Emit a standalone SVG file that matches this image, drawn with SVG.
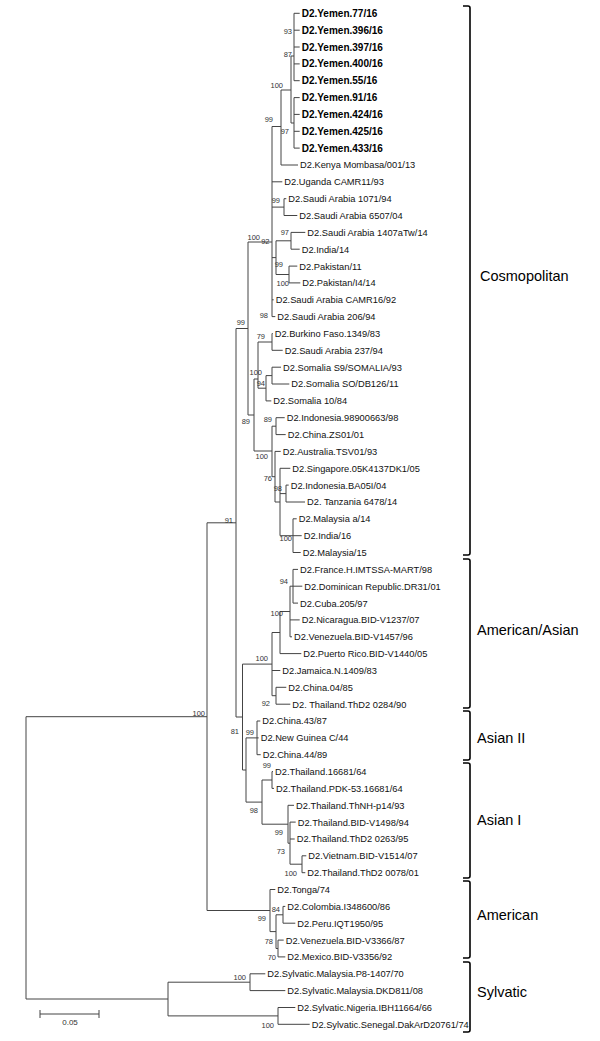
<svg xmlns="http://www.w3.org/2000/svg" width="600" height="1041" viewBox="0 0 600 1041">
<style>
.lf{font-family:"Liberation Sans",Arial,sans-serif;font-size:9.3px;fill:#111}
.bd{font-family:"Liberation Sans",Arial,sans-serif;font-size:10px;font-weight:bold;fill:#000}
.bs{font-family:"Liberation Sans",Arial,sans-serif;font-size:7.5px;fill:#333;text-anchor:end}
.cl{font-family:"Liberation Sans",Arial,sans-serif;font-size:14.5px;fill:#000}
.br{fill:none;stroke:#000;stroke-width:1.6}
.tr{fill:none;stroke:#444;stroke-width:1}
</style>
<rect width="600" height="1041" fill="#fff"/>
<g id="connectors" class="tr">
<path d="M26,716.7V999M26,716.7H207M26,999H168
M207,522.8V910.5M207,522.8H236M207,910.5H270
M236,328.5V717M236,328.5H248M236,717H242.5
M248,242V415M248,242H272M248,415H254
M272,126.5V316.6M272,126.5H281M272,181.8H282.3M272,207.1H284M272,257.6H276M272,299.8H273.7M272,316.6H275.3
M281,90V165M281,90H291M281,165H298
M291,56V123M291,56H294M291,123H294
M294,13.3V80.7M294,13.3H299.7M294,30.2H299.7M294,47H299.7M294,63.9H299.7M294,80.7H299.7
M294,97.6V148.1M294,97.6H299.7M294,114.4H299.7M294,131.3H299.7M294,148.1H299.7
M284,198.7V215.5M284,198.7H286.3M284,215.5H297.3
M276,240.8V274.5M276,240.8H291M276,274.5H289
M291,232.4V249.2M291,232.4H305.3M291,249.2H299.7
M289,266.1V282.9M289,266.1H297.3M289,282.9H300.3
M254,379V451M254,379H258M254,451H272
M258,342V388.2M258,342H272M258,388.2H266
M272,333.5V350.3M272,333.5H272.7M272,350.3H282.7
M266,375.6V400.9M266,375.6H272M266,400.9H271.3
M272,367.2V384M272,367.2H281M272,384H289.3
M272,426.2V476.7M272,426.2H276M272,476.7H275
M276,417.7V434.6M276,417.7H284.7M276,434.6H285.7
M275,451.4V502M275,451.4H280.7M275,502H280
M280,468.3V535.7M280,468.3H290.3M280,493.6H286M280,535.7H293
M286,485.1V502M286,485.1H288.7M286,502H305
M293,518.8V552.5M293,518.8H296.7M293,535.7H301.7M293,552.5H300.7
M242.5,664.1V770M242.5,664.1H272M242.5,770H246
M272,632.5V695.7M272,632.5H280M272,670.5H280.3M272,695.7H276
M280,611.5V653.6M280,611.5H290M280,653.6H301.3
M290,586.2V636.8M290,586.2H293M290,619.9H299.7M290,636.8H292
M293,569.4V603.1M293,569.4H298M293,586.2H302.3M293,603.1H298
M276,687.3V704.2M276,687.3H286.3M276,704.2H290.3
M246,737.9V802.1M246,737.9H257M246,802.1H262
M257,721V754.7M257,721H260.3M257,737.9H258.7M257,754.7H260.7
M262,780V824.2M262,780H272M262,824.2H288
M272,771.6V788.4M272,771.6H273M272,788.4H274
M288,805.3V843.2M288,805.3H294M288,843.2H290
M290,822.1V864.2M290,822.1H295.7M290,839H294.7M290,864.2H302
M302,855.8V872.7M302,855.8H306.3M302,872.7H305.3
M270,889.5V931.6M270,889.5H275.3M270,931.6H276
M276,914.8V948.5M276,914.8H283M276,948.5H278
M283,906.4V923.2M283,906.4H285.3M283,923.2H295.3
M278,940.1V956.9M278,940.1H283.7M278,956.9H285.3
M168,982.2V1015.9M168,982.2H250M168,1015.9H278
M250,973.8V990.6M250,973.8H265.3M250,990.6H285.3
M278,1007.5V1024.3M278,1007.5H295.3M278,1024.3H309.7"/>
</g>
<g id="bootstrap">
<text class="bs" x="292" y="34">93</text>
<text class="bs" x="292" y="57">87</text>
<text class="bs" x="283" y="88">100</text>
<text class="bs" x="273" y="122">99</text>
<text class="bs" x="289" y="134">97</text>
<text class="bs" x="280" y="203">99</text>
<text class="bs" x="260" y="240">100</text>
<text class="bs" x="269.5" y="244">92</text>
<text class="bs" x="289" y="235">97</text>
<text class="bs" x="283" y="267">99</text>
<text class="bs" x="289" y="286">100</text>
<text class="bs" x="268" y="318">98</text>
<text class="bs" x="245" y="325">99</text>
<text class="bs" x="265" y="339">79</text>
<text class="bs" x="262" y="375">100</text>
<text class="bs" x="265" y="386">94</text>
<text class="bs" x="250" y="424">89</text>
<text class="bs" x="272" y="422">89</text>
<text class="bs" x="268" y="459">100</text>
<text class="bs" x="272" y="481">76</text>
<text class="bs" x="282" y="491">98</text>
<text class="bs" x="292" y="541">100</text>
<text class="bs" x="233" y="523">91</text>
<text class="bs" x="288" y="584">94</text>
<text class="bs" x="283" y="616">100</text>
<text class="bs" x="268" y="661">100</text>
<text class="bs" x="270" y="706">92</text>
<text class="bs" x="239" y="734">81</text>
<text class="bs" x="254" y="735">99</text>
<text class="bs" x="271" y="768">99</text>
<text class="bs" x="258" y="813">98</text>
<text class="bs" x="283" y="835">99</text>
<text class="bs" x="285" y="854">73</text>
<text class="bs" x="297" y="876">100</text>
<text class="bs" x="205" y="716">100</text>
<text class="bs" x="266" y="921">99</text>
<text class="bs" x="280" y="912">84</text>
<text class="bs" x="273" y="944">78</text>
<text class="bs" x="276" y="960">70</text>
<text class="bs" x="246" y="980">100</text>
<text class="bs" x="274" y="1028">100</text>
</g>
<g id="leaves">
<g id="n0"><text class="bd" x="301.7" y="16.9">D2.Yemen.77/16</text></g>
<g id="n1"><text class="bd" x="301.7" y="33.7">D2.Yemen.396/16</text></g>
<g id="n2"><text class="bd" x="301.7" y="50.6">D2.Yemen.397/16</text></g>
<g id="n3"><text class="bd" x="301.7" y="67.4">D2.Yemen.400/16</text></g>
<g id="n4"><text class="bd" x="301.7" y="84.3">D2.Yemen.55/16</text></g>
<g id="n5"><text class="bd" x="301.7" y="101.1">D2.Yemen.91/16</text></g>
<g id="n6"><text class="bd" x="301.7" y="118">D2.Yemen.424/16</text></g>
<g id="n7"><text class="bd" x="301.7" y="134.8">D2.Yemen.425/16</text></g>
<g id="n8"><text class="bd" x="301.7" y="151.7">D2.Yemen.433/16</text></g>
<g id="n9"><text class="lf" x="300" y="168.4">D2.Kenya Mombasa/001/13</text></g>
<g id="n10"><text class="lf" x="284.3" y="185.2">D2.Uganda CAMR11/93</text></g>
<g id="n11"><text class="lf" x="288.3" y="202.1">D2.Saudi Arabia 1071/94</text></g>
<g id="n12"><text class="lf" x="299.3" y="218.9">D2.Saudi Arabia 6507/04</text></g>
<g id="n13"><text class="lf" x="307.3" y="235.8">D2.Saudi Arabia 1407aTw/14</text></g>
<g id="n14"><text class="lf" x="301.7" y="252.6">D2.India/14</text></g>
<g id="n15"><text class="lf" x="299.3" y="269.5">D2.Pakistan/11</text></g>
<g id="n16"><text class="lf" x="302.3" y="286.3">D2.Pakistan/I4/14</text></g>
<g id="n17"><text class="lf" x="275.7" y="303.2">D2.Saudi Arabia CAMR16/92</text></g>
<g id="n18"><text class="lf" x="277.3" y="320">D2.Saudi Arabia 206/94</text></g>
<g id="n19"><text class="lf" x="274.7" y="336.9">D2.Burkino Faso.1349/83</text></g>
<g id="n20"><text class="lf" x="284.7" y="353.7">D2.Saudi Arabia 237/94</text></g>
<g id="n21"><text class="lf" x="283" y="370.6">D2.Somalia S9/SOMALIA/93</text></g>
<g id="n22"><text class="lf" x="291.3" y="387.4">D2.Somalia SO/DB126/11</text></g>
<g id="n23"><text class="lf" x="273.3" y="404.3">D2.Somalia 10/84</text></g>
<g id="n24"><text class="lf" x="286.7" y="421.1">D2.Indonesia.98900663/98</text></g>
<g id="n25"><text class="lf" x="287.7" y="438">D2.China.ZS01/01</text></g>
<g id="n26"><text class="lf" x="282.7" y="454.8">D2.Australia.TSV01/93</text></g>
<g id="n27"><text class="lf" x="292.3" y="471.7">D2.Singapore.05K4137DK1/05</text></g>
<g id="n28"><text class="lf" x="290.7" y="488.5">D2.Indonesia.BA05I/04</text></g>
<g id="n29"><text class="lf" x="307" y="505.4">D2. Tanzania 6478/14</text></g>
<g id="n30"><text class="lf" x="298.7" y="522.2">D2.Malaysia a/14</text></g>
<g id="n31"><text class="lf" x="303.7" y="539.1">D2.India/16</text></g>
<g id="n32"><text class="lf" x="302.7" y="555.9">D2.Malaysia/15</text></g>
<g id="n33"><text class="lf" x="300" y="572.8">D2.France.H.IMTSSA-MART/98</text></g>
<g id="n34"><text class="lf" x="304.3" y="589.6">D2.Dominican Republic.DR31/01</text></g>
<g id="n35"><text class="lf" x="300" y="606.5">D2.Cuba.205/97</text></g>
<g id="n36"><text class="lf" x="301.7" y="623.3">D2.Nicaragua.BID-V1237/07</text></g>
<g id="n37"><text class="lf" x="294" y="640.2">D2.Venezuela.BID-V1457/96</text></g>
<g id="n38"><text class="lf" x="303.3" y="657">D2.Puerto Rico.BID-V1440/05</text></g>
<g id="n39"><text class="lf" x="282.3" y="673.9">D2.Jamaica.N.1409/83</text></g>
<g id="n40"><text class="lf" x="288.3" y="690.7">D2.China.04/85</text></g>
<g id="n41"><text class="lf" x="292.3" y="707.6">D2. Thailand.ThD2 0284/90</text></g>
<g id="n42"><text class="lf" x="262.3" y="724.4">D2.China.43/87</text></g>
<g id="n43"><text class="lf" x="260.7" y="741.3">D2.New Guinea C/44</text></g>
<g id="n44"><text class="lf" x="262.7" y="758.1">D2.China.44/89</text></g>
<g id="n45"><text class="lf" x="275" y="775">D2.Thailand.16681/64</text></g>
<g id="n46"><text class="lf" x="276" y="791.8">D2.Thailand.PDK-53.16681/64</text></g>
<g id="n47"><text class="lf" x="296" y="808.7">D2.Thailand.ThNH-p14/93</text></g>
<g id="n48"><text class="lf" x="297.7" y="825.5">D2.Thailand.BID-V1498/94</text></g>
<g id="n49"><text class="lf" x="296.7" y="842.4">D2.Thailand.ThD2 0263/95</text></g>
<g id="n50"><text class="lf" x="308.3" y="859.2">D2.Vietnam.BID-V1514/07</text></g>
<g id="n51"><text class="lf" x="307.3" y="876.1">D2.Thailand.ThD2 0078/01</text></g>
<g id="n52"><text class="lf" x="277.3" y="892.9">D2.Tonga/74</text></g>
<g id="n53"><text class="lf" x="287.3" y="909.8">D2.Colombia.I348600/86</text></g>
<g id="n54"><text class="lf" x="297.3" y="926.6">D2.Peru.IQT1950/95</text></g>
<g id="n55"><text class="lf" x="285.7" y="943.5">D2.Venezuela.BID-V3366/87</text></g>
<g id="n56"><text class="lf" x="287.3" y="960.3">D2.Mexico.BID-V3356/92</text></g>
<g id="n57"><text class="lf" x="267.3" y="977.2">D2.Sylvatic.Malaysia.P8-1407/70</text></g>
<g id="n58"><text class="lf" x="287.3" y="994">D2.Sylvatic.Malaysia.DKD811/08</text></g>
<g id="n59"><text class="lf" x="297.3" y="1010.9">D2.Sylvatic.Nigeria.IBH11664/66</text></g>
<g id="n60"><text class="lf" x="311.7" y="1027.7">D2.Sylvatic.Senegal.DakArD20761/74</text></g>
</g>
<g id="clades">
<path class="br" d="M463,6H468Q470,6 470,8V553Q470,555 468,555H463"/>
<path class="br" d="M463,559H468Q470,559 470,561V706Q470,708 468,708H463"/>
<path class="br" d="M463,711H468Q470,711 470,713V758Q470,760 468,760H463"/>
<path class="br" d="M463,763H468Q470,763 470,765V876Q470,878 468,878H463"/>
<path class="br" d="M463,881H468Q470,881 470,883V956Q470,958 468,958H463"/>
<path class="br" d="M463,962H468Q470,962 470,964V1030Q470,1032 468,1032H463"/>
<text class="cl" x="480" y="281">Cosmopolitan</text>
<text class="cl" x="477" y="635">American/Asian</text>
<text class="cl" x="477" y="743">Asian II</text>
<text class="cl" x="477" y="825">Asian I</text>
<text class="cl" x="477" y="920">American</text>
<text class="cl" x="477" y="997">Sylvatic</text>
</g>
<g id="scalebar">
<path class="tr" d="M40,1014H99M40,1010V1018M99,1010V1018"/>
<text x="70" y="1025" font-family="Liberation Sans, Arial, sans-serif" font-size="8" fill="#333" text-anchor="middle">0.05</text>
</g>
</svg>
